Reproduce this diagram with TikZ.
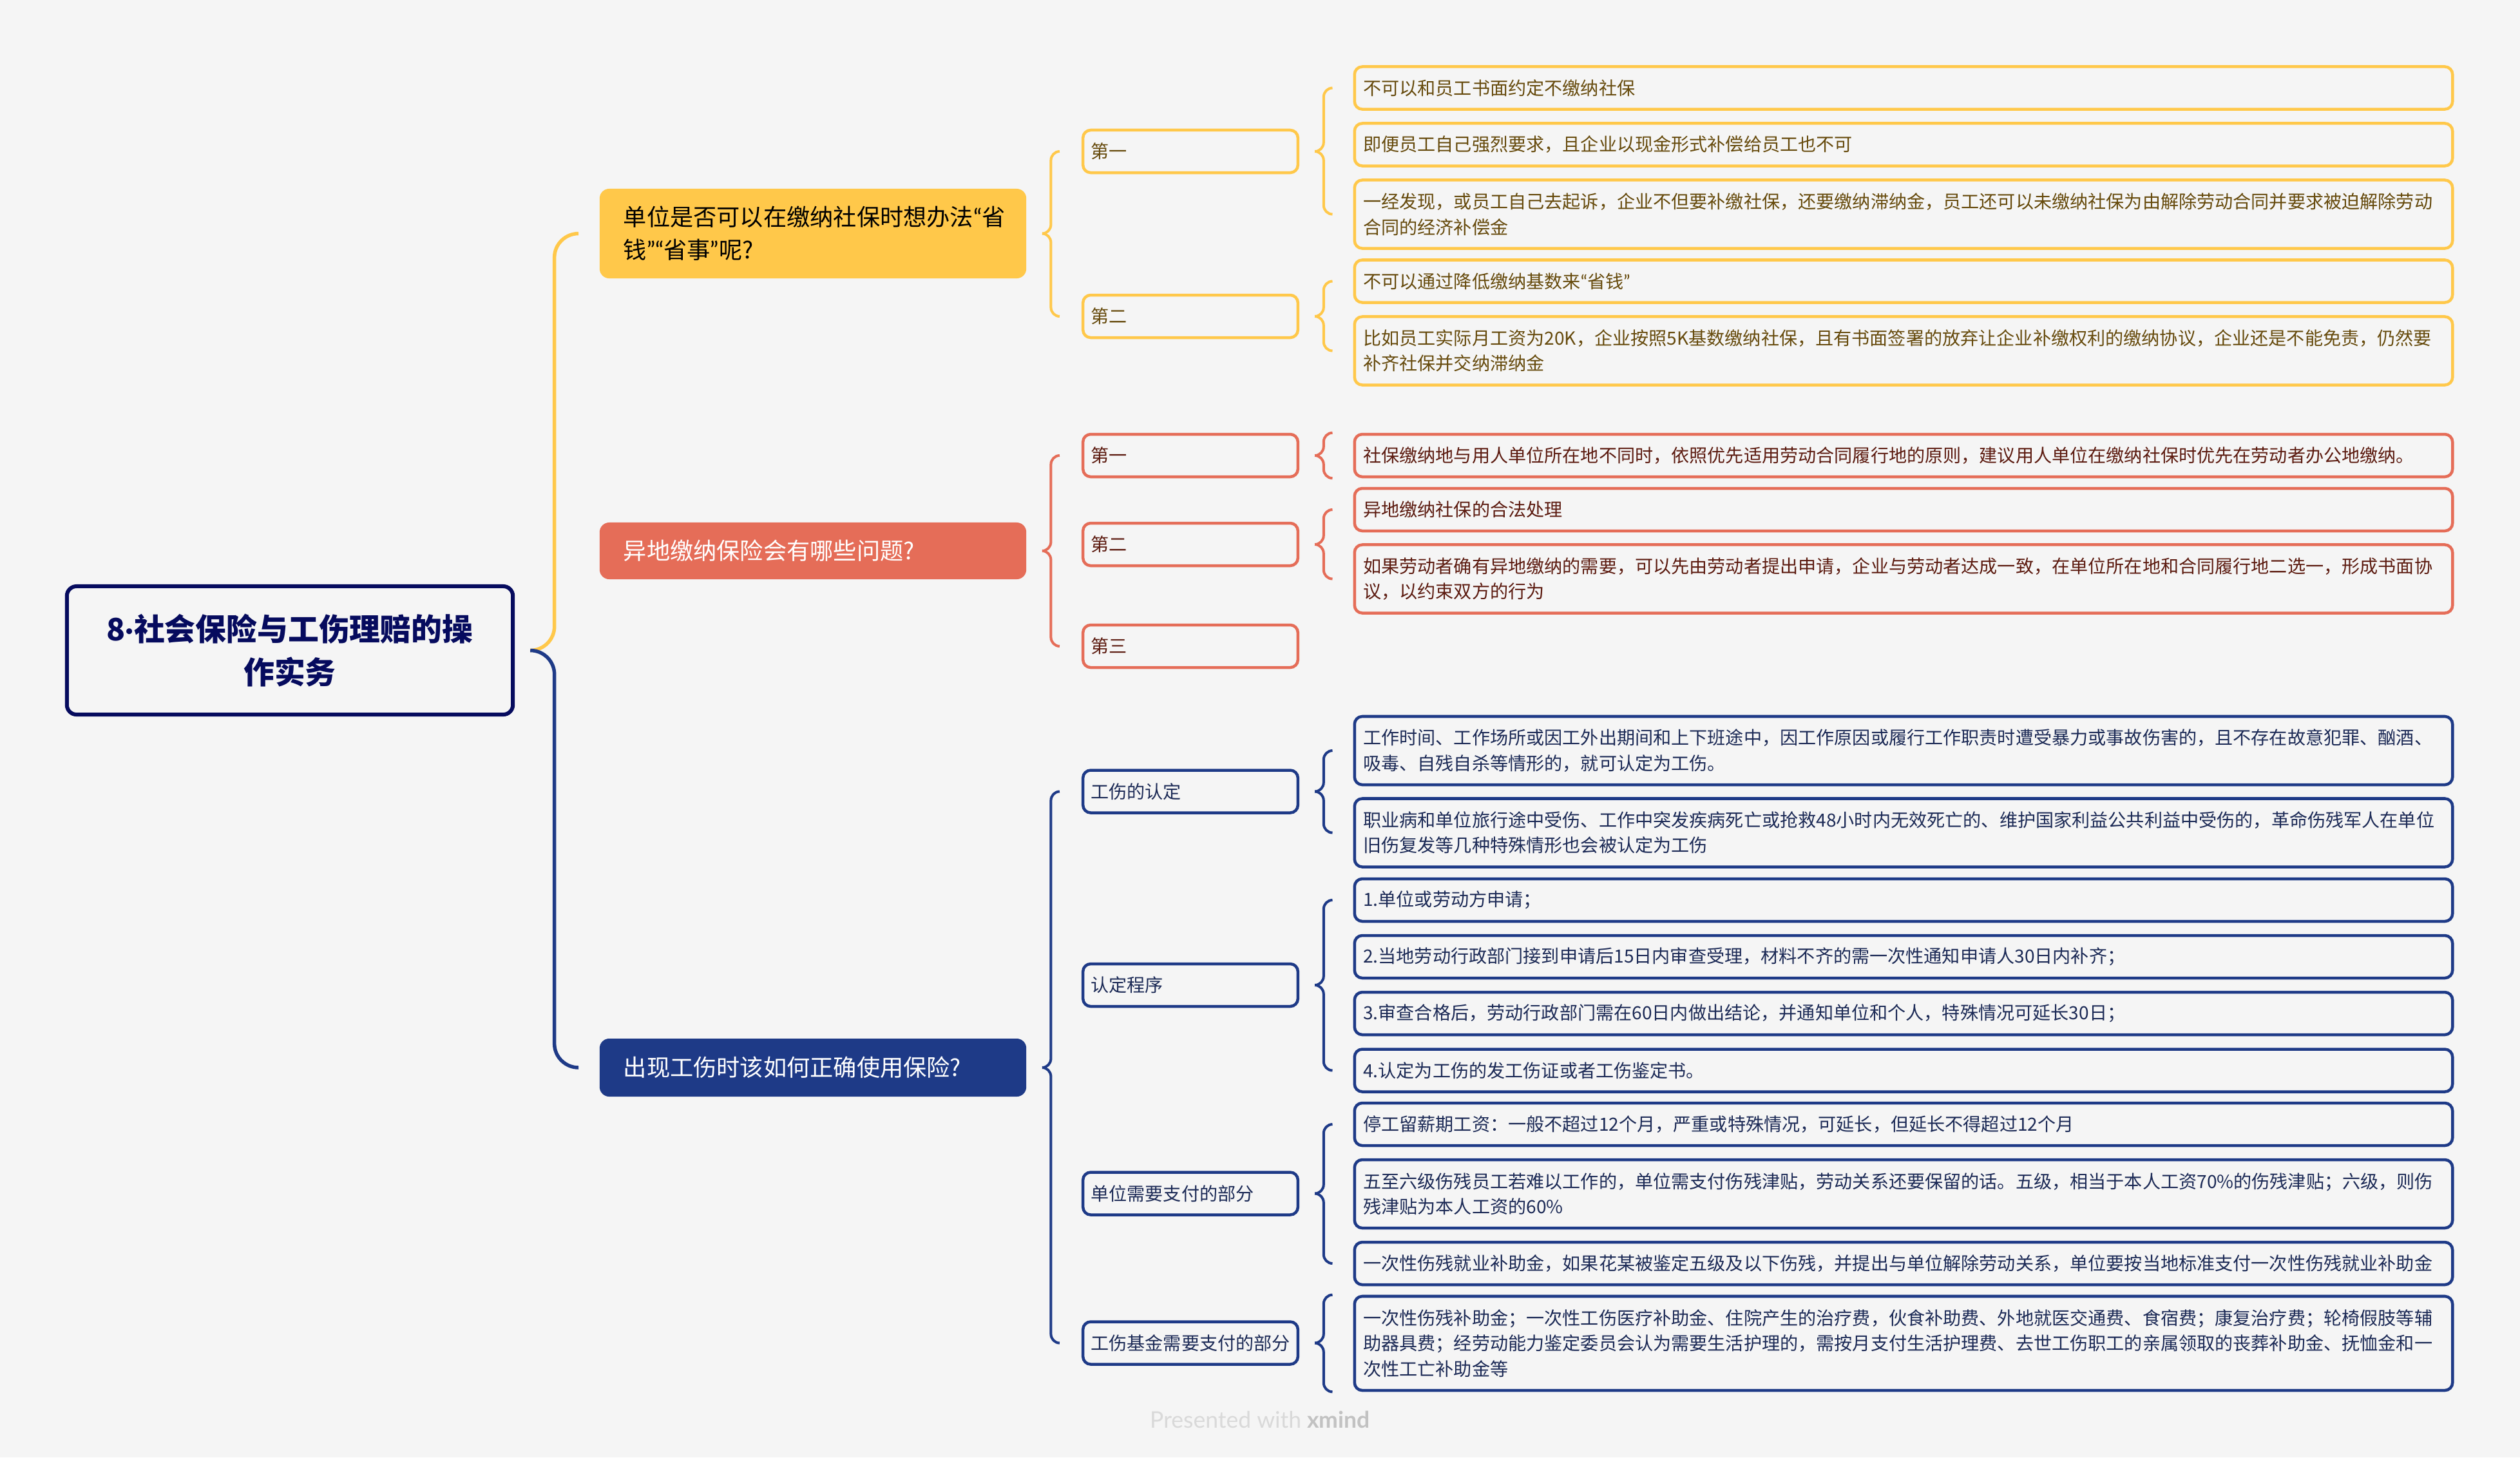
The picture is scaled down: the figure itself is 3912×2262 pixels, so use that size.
\documentclass[tikz,border=0pt]{standalone}
\usepackage{fontspec}
\usepackage{tikz}
\usetikzlibrary{calc}
\setmainfont{Noto Sans CJK SC}
\newfontfamily\markfont{Lato}
\definecolor{pagegray}{HTML}{F5F5F5}
\definecolor{rootblue}{HTML}{060B5E}
\definecolor{topicyellow}{HTML}{FFC84A}
\definecolor{topicred}{HTML}{E56D58}
\definecolor{topicblue}{HTML}{1E3A87}
\definecolor{darkyellow}{HTML}{664A0C}
\definecolor{darkred}{HTML}{5C1B10}
\definecolor{darkblue}{HTML}{1C2A56}
\tikzstyle{rootbox} = [draw=rootblue, text=rootblue, line width=.06cm, rounded corners=.15cm, minimum width=6.92cm, minimum height=1.99cm, text width=6.4cm, inner sep=0pt, align=center, font=\fontsize{13.6}{19}\selectfont\bfseries]
\tikzstyle{topicbox} = [rounded corners=.15cm, minimum width=6.62cm, text width=5.88cm, inner xsep=.37cm, inner ysep=0pt, align=left, font=\fontsize{10.3}{14.5}\selectfont]
\tikzstyle{subbox} = [draw, rounded corners=.12cm, line width=.045cm, minimum height=.66cm, text width=3.09cm, inner xsep=.1225cm, inner ysep=0pt, align=left, font=\fontsize{8}{11.2}\selectfont]
\tikzstyle{leafbox} = [draw, rounded corners=.12cm, line width=.045cm, minimum height=.66cm, text width=16.765cm, inner xsep=.135cm, inner ysep=0pt, align=left, font=\fontsize{8}{11.2}\selectfont]
\tikzstyle{twolines} = [minimum height=1.06cm]
\tikzstyle{threelines} = [minimum height=1.46cm]
\tikzstyle{yellowbox} = [draw=topicyellow, text=darkyellow]
\tikzstyle{redbox} = [draw=topicred, text=darkred]
\tikzstyle{bluebox} = [draw=topicblue, text=darkblue]
\newcommand{\lquote}{{\markfont “}}
\newcommand{\rquote}{{\markfont ”}}
\newcommand{\branch}[6]{
	\coordinate (bstart) at ([xshift=#4cm]#1.east);
	\coordinate (bend) at ([xshift=-#5cm]#2);
	\coordinate (bmid) at ($(bstart)!.5!(bend)$);
	\coordinate (bup) at (bmid|-bstart);
	\coordinate (bdown) at (bmid|-bend);
	\coordinate (bfirst) at ($(bup)!#6cm!(bdown)$);
	\coordinate (blast) at ($(bdown)!#6cm!(bup)$);
	\draw[#3] (bstart) .. controls ($(bstart)!.55!(bup)$) and ($(bfirst)!.55!(bup)$) .. (bfirst) -- (blast) .. controls ($(blast)!.55!(bdown)$) and ($(bend)!.55!(bdown)$) .. (bend);
}
\begin{document}
\begin{tikzpicture}[x=.01cm,y=-.01cm]
	\useasboundingbox (0,0) rectangle (3912,2262);
	\fill[pagegray] (0,0) rectangle (3912,2262);
	\node[rootbox] (root) at (450,1009.5) {8{\markfont ·}社会保险与工伤理赔的操\\作实务};
	\node[topicbox,fill=topicyellow,text=black,minimum height=1.39cm] (ta) at (1262,362.5) {单位是否可以在缴纳社保时想办法\lquote 省\\钱\rquote\lquote 省事\rquote 呢?};
	\node[topicbox,fill=topicred,text=white,minimum height=.88cm] (tb) at (1262,855) {异地缴纳保险会有哪些问题?};
	\node[topicbox,fill=topicblue,text=white,minimum height=.90cm] (tc) at (1262,1657) {出现工伤时该如何正确使用保险?};

	\node[subbox,yellowbox] (sa1) at (1848,235) {第一};
	\node[subbox,yellowbox] (sa2) at (1848,491) {第二};
	\node[subbox,redbox] (sb1) at (1848,707) {第一};
	\node[subbox,redbox] (sb2) at (1848,845) {第二};
	\node[subbox,redbox] (sb3) at (1848,1003) {第三};
	\node[subbox,bluebox] (sc1) at (1848,1228.5) {工伤的认定};
	\node[subbox,bluebox] (sc2) at (1848,1529) {认定程序};
	\node[subbox,bluebox] (sc3) at (1848,1852.5) {单位需要支付的部分};
	\node[subbox,bluebox] (sc4) at (1848,2084.5) {工伤基金需要支付的部分};

	\node[leafbox,yellowbox] (la1) at (2955,136.5) {不可以和员工书面约定不缴纳社保};
	\node[leafbox,yellowbox] (la2) at (2955,224.5) {即便员工自己强烈要求，且企业以现金形式补偿给员工也不可};
	\node[leafbox,yellowbox,twolines] (la3) at (2955,332.5) {一经发现，或员工自己去起诉，企业不但要补缴社保，还要缴纳滞纳金，员工还可以未缴纳社保为由解除劳动合同并要求被迫解除劳动\\合同的经济补偿金};
	\node[leafbox,yellowbox] (la4) at (2955,436.5) {不可以通过降低缴纳基数来\lquote 省钱\rquote};
	\node[leafbox,yellowbox,twolines] (la5) at (2955,544.5) {比如员工实际月工资为20K，企业按照5K基数缴纳社保，且有书面签署的放弃让企业补缴权利的缴纳协议，企业还是不能免责，仍然要\\补齐社保并交纳滞纳金};

	\node[leafbox,redbox] (lb1) at (2955,707) {社保缴纳地与用人单位所在地不同时，依照优先适用劳动合同履行地的原则，建议用人单位在缴纳社保时优先在劳动者办公地缴纳。};
	\node[leafbox,redbox] (lb2) at (2955,791) {异地缴纳社保的合法处理};
	\node[leafbox,redbox,twolines] (lb3) at (2955,898.5) {如果劳动者确有异地缴纳的需要，可以先由劳动者提出申请，企业与劳动者达成一致，在单位所在地和合同履行地二选一，形成书面协\\议，以约束双方的行为};

	\node[leafbox,bluebox,twolines] (lc1) at (2955,1165) {工作时间、工作场所或因工外出期间和上下班途中，因工作原因或履行工作职责时遭受暴力或事故伤害的，且不存在故意犯罪、酗酒、\\吸毒、自残自杀等情形的，就可认定为工伤。};
	\node[leafbox,bluebox,twolines] (lc2) at (2955,1292.5) {职业病和单位旅行途中受伤、工作中突发疾病死亡或抢救48小时内无效死亡的、维护国家利益公共利益中受伤的，革命伤残军人在单位\\旧伤复发等几种特殊情形也会被认定为工伤};
	\node[leafbox,bluebox] (lc3) at (2955,1397) {1.单位或劳动方申请；};
	\node[leafbox,bluebox] (lc4) at (2955,1485) {2.当地劳动行政部门接到申请后15日内审查受理，材料不齐的需一次性通知申请人30日内补齐；};
	\node[leafbox,bluebox] (lc5) at (2955,1573) {3.审查合格后，劳动行政部门需在60日内做出结论，并通知单位和个人，特殊情况可延长30日；};
	\node[leafbox,bluebox] (lc6) at (2955,1661.5) {4.认定为工伤的发工伤证或者工伤鉴定书。};
	\node[leafbox,bluebox] (lc7) at (2955,1745) {停工留薪期工资：一般不超过12个月，严重或特殊情况，可延长，但延长不得超过12个月};
	\node[leafbox,bluebox,twolines] (lc8) at (2955,1853) {五至六级伤残员工若难以工作的，单位需支付伤残津贴，劳动关系还要保留的话。五级，相当于本人工资70\%的伤残津贴；六级，则伤\\残津贴为本人工资的60\%};
	\node[leafbox,bluebox] (lc9) at (2955,1961) {一次性伤残就业补助金，如果花某被鉴定五级及以下伤残，并提出与单位解除劳动关系，单位要按当地标准支付一次性伤残就业补助金};
	\node[leafbox,bluebox,threelines] (lc10) at (2955,2085) {一次性伤残补助金；一次性工伤医疗补助金、住院产生的治疗费，伙食补助费、外地就医交通费、食宿费；康复治疗费；轮椅假肢等辅\\助器具费；经劳动能力鉴定委员会认为需要生活护理的，需按月支付生活护理费、去世工伤职工的亲属领取的丧葬补助金、抚恤金和一\\次性工亡补助金等};

	\node[text=black!15,font=\fontsize{10.1}{12}\markfont,inner sep=0pt] (credit) at (1956,2203) {Presented with \textcolor{black!24}{\textbf{xmind}}};

	\branch{root}{ta.west}{topicyellow,line width=.055cm}{.24}{.32}{.37}
	\branch{root}{tc.west}{topicblue,line width=.055cm}{.24}{.32}{.37}
	\foreach \p/\c in {ta/sa1,ta/sa2}{
		\branch{\p}{\c.west}{topicyellow,line width=.04cm}{.24}{.34}{.14}
	}
	\foreach \p/\c in {sa1/la1,sa1/la3,sa2/la4,sa2/la5}{
		\branch{\p}{\c.west}{topicyellow,line width=.04cm}{.24}{.32}{.14}
	}
	\foreach \p/\c in {tb/sb1,tb/sb3}{
		\branch{\p}{\c.west}{topicred,line width=.04cm}{.24}{.34}{.14}
	}
	\foreach \p/\c in {sb1/lb1.north west,sb1/lb1.south west,sb2/lb2.west,sb2/lb3.west}{
		\branch{\p}{\c}{topicred,line width=.04cm}{.24}{.32}{.14}
	}
	\foreach \p/\c in {tc/sc1,tc/sc4}{
		\branch{\p}{\c.west}{topicblue,line width=.04cm}{.24}{.34}{.14}
	}
	\foreach \p/\c in {sc1/lc1.west,sc1/lc2.west,sc2/lc3.west,sc2/lc6.west,sc3/lc7.west,sc3/lc9.west,sc4/lc10.north west,sc4/lc10.south west}{
		\branch{\p}{\c}{topicblue,line width=.04cm}{.24}{.32}{.14}
	}
\end{tikzpicture}
\end{document}
